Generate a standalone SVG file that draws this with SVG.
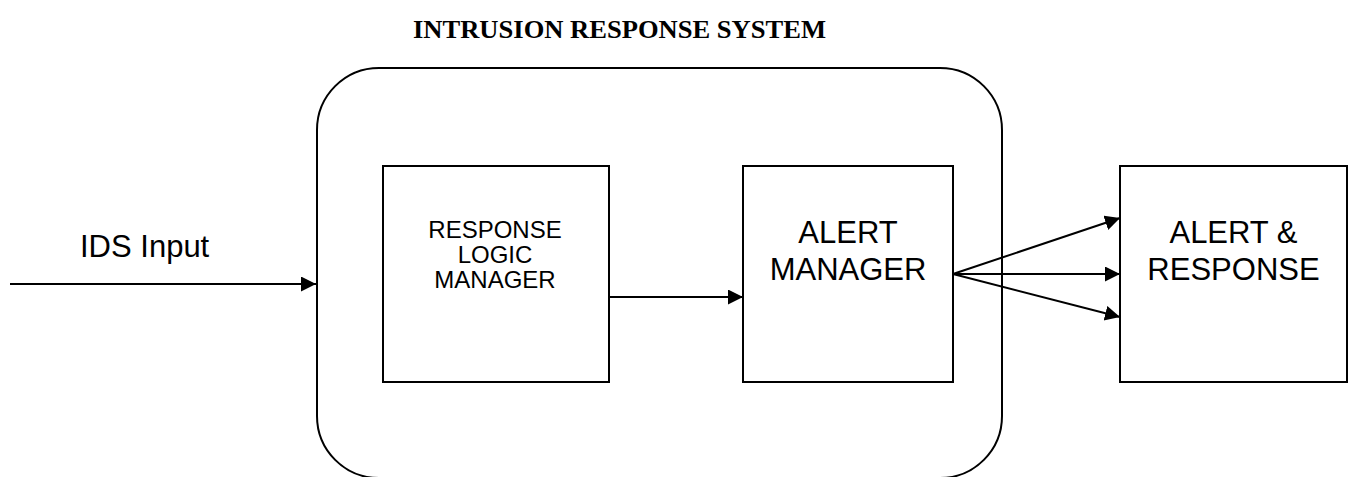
<svg xmlns="http://www.w3.org/2000/svg" width="1352" height="477" viewBox="0 0 1352 477">
<style>
.box{fill:#fff;stroke:#000;stroke-width:2}
.outer{fill:none;stroke:#000;stroke-width:2}
.big{font-family:"Liberation Sans",Arial,sans-serif;font-size:31px;fill:#000}
.small{font-family:"Liberation Sans",Arial,sans-serif;font-size:24px;fill:#000}
.title{font-family:"Liberation Serif","Times New Roman",serif;font-size:25px;font-weight:bold;fill:#000}
.edge{stroke:#000;stroke-width:2;fill:none;marker-end:url(#arr)}
</style>
<defs>
<marker id="arr" markerUnits="userSpaceOnUse" markerWidth="16" markerHeight="16" refX="15" refY="7.5" orient="auto">
<path d="M0,0 L15,7.5 L0,15 z" fill="#000"/>
</marker>
</defs>
<rect width="1352" height="477" fill="#fff"/>
<text class="title" x="413" y="38" textLength="413" lengthAdjust="spacingAndGlyphs">INTRUSION RESPONSE SYSTEM</text>
<g id="system">
<rect class="outer" x="317" y="68" width="685" height="410" rx="62" ry="62"/>
</g>
<g id="ids-input">
<text class="big" x="80" y="257">IDS Input</text>
</g>
<g id="response-logic-manager">
<rect class="box" x="383" y="166" width="226" height="216"/>
<text class="small" text-anchor="middle"><tspan x="495" y="238">RESPONSE</tspan><tspan x="495" y="263">LOGIC</tspan><tspan x="495" y="288">MANAGER</tspan></text>
</g>
<g id="alert-manager">
<rect class="box" x="743" y="166" width="210" height="216"/>
<text class="big" text-anchor="middle"><tspan x="848" y="243">ALERT</tspan><tspan x="848" y="280">MANAGER</tspan></text>
</g>
<g id="alert-response">
<rect class="box" x="1120" y="166" width="227" height="216"/>
<text class="big" text-anchor="middle"><tspan x="1233.5" y="243">ALERT &amp;</tspan><tspan x="1233.5" y="280">RESPONSE</tspan></text>
</g>
<g id="connectors">
<line class="edge" x1="10" y1="284" x2="316" y2="284"/>
<line class="edge" x1="609" y1="297" x2="743" y2="297"/>
<line class="edge" x1="953" y1="274" x2="1120" y2="218"/>
<line class="edge" x1="953" y1="274" x2="1120" y2="274"/>
<line class="edge" x1="953" y1="274" x2="1120" y2="317"/>
</g>
</svg>
